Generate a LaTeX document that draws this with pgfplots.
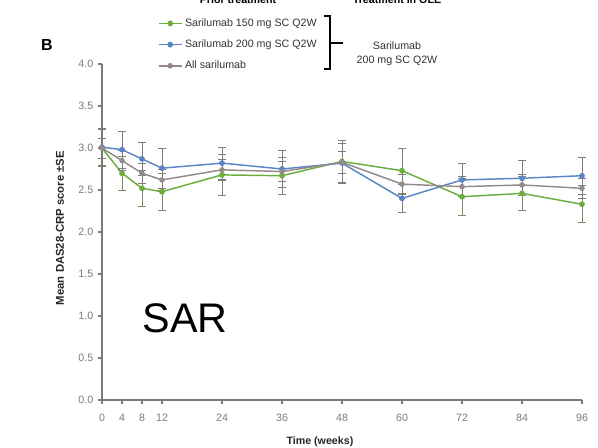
\documentclass[border=0pt]{standalone}
\usepackage{pgfplots}
\pgfplotsset{compat=1.18}
\usepackage{pgfplotstable}
\usepackage{fontspec}
\setmainfont{Liberation Sans}
\definecolor{cgreen}{HTML}{6BAE3E}
\definecolor{cblue}{HTML}{5B86C6}
\definecolor{cgray}{HTML}{958A8A}
\definecolor{axgray}{HTML}{7A7A7A}
\definecolor{errgray}{HTML}{7C7C7C}
\pgfplotstableread{
t m e
0 3.00 0.22
4 2.70 0.20
8 2.52 0.21
12 2.48 0.22
24 2.68 0.24
36 2.67 0.22
48 2.84 0.25
60 2.73 0.27
72 2.42 0.22
84 2.46 0.20
96 2.33 0.22
}\green
\pgfplotstableread{
t m e
0 3.01 0.22
4 2.98 0.22
8 2.87 0.20
12 2.76 0.24
24 2.82 0.19
36 2.75 0.22
48 2.82 0.24
60 2.40 0.17
72 2.62 0.20
84 2.64 0.21
96 2.67 0.22
}\blue
\pgfplotstableread{
t m e
0 3.00 0.12
4 2.85 0.12
8 2.70 0.12
12 2.62 0.12
24 2.74 0.12
36 2.72 0.12
48 2.83 0.13
60 2.57 0.12
72 2.54 0.12
84 2.56 0.12
96 2.52 0.12
}\allsar
\begin{document}
\begin{tikzpicture}
\useasboundingbox (0,0) rectangle (448.5pt,335.25pt);
\begin{axis}[
  at={(76.5pt,35.25pt)}, anchor=south west,
  scale only axis, width=360pt, height=252pt,
  xmin=0, xmax=96, ymin=0, ymax=4,
  axis lines=left, axis line style={-, axgray, line width=0.9pt},
  xtick={0,4,8,12,24,36,48,60,72,84,96},
  ytick={0,0.5,1,1.5,2,2.5,3,3.5,4},
  yticklabel style={/pgf/number format/.cd, fixed, fixed zerofill, precision=1},
  /pgf/number format/assume math mode=true,
  tick align=outside, major tick length=3pt,
  tick style={axgray, line width=0.8pt},
  tick label style={font=\fontsize{8}{9}\selectfont, text=axgray},
  xticklabel style={yshift=-4pt},
  xlabel={Time (weeks)},
  ylabel={Mean DAS28-CRP score ±SE},
  xlabel style={at={(axis description cs:0.454,-0.125)}, anchor=center, font=\bfseries\fontsize{8}{9}\selectfont, text=black!85},
  ylabel style={at={(axis description cs:-0.0875,0.512)}, anchor=center, font=\bfseries\fontsize{8.5}{10}\selectfont, text=black!85},
  legend style={at={(axis description cs:0.108,1.152)}, anchor=north west, draw=none, fill=none,
    font=\fontsize{8}{9.5}\selectfont, row sep=4.6pt, text=black!80},
  legend cell align=left,
  clip=false,
]
\addplot+[cgreen, line width=1.1pt, mark=*, mark size=1.6pt, mark options={fill=cgreen, draw=cgreen},
  error bars/.cd, y dir=both, y explicit,
  error bar style={errgray!70!cgreen, line width=0.6pt},
  error mark options={rotate=90, mark size=3pt, errgray!70!cgreen, line width=0.6pt}]
  table[x=t, y=m, y error=e]{\green};
\addlegendentry{Sarilumab 150 mg SC Q2W}
\addplot+[cblue, line width=1.1pt, mark=*, mark size=1.6pt, mark options={fill=cblue, draw=cblue},
  error bars/.cd, y dir=both, y explicit,
  error bar style={errgray, line width=0.6pt},
  error mark options={rotate=90, mark size=3pt, errgray, line width=0.6pt}]
  table[x=t, y=m, y error=e]{\blue};
\addlegendentry{Sarilumab 200 mg SC Q2W}
\addplot+[cgray, line width=1.1pt, mark=*, mark size=1.5pt, mark options={fill=cgray, draw=cgray},
  error bars/.cd, y dir=both, y explicit,
  error bar style={errgray, line width=0.6pt},
  error mark options={rotate=90, mark size=3pt, errgray, line width=0.6pt}]
  table[x=t, y=m, y error=e]{\allsar};
\addlegendentry{All sarilumab}
\end{axis}
% bracket
\draw[black, line width=1pt] (243pt,323.25pt) -- (247.5pt,323.25pt) -- (247.5pt,283.5pt) -- (243pt,283.5pt);
\draw[black, line width=1pt] (247.5pt,303pt) -- (257.25pt,303pt);
\node[font=\fontsize{8}{9.5}\selectfont, text=black!80] at (297.75pt,300.75pt) {Sarilumab};
\node[font=\fontsize{8}{9.5}\selectfont, text=black!80] at (297.75pt,289.5pt) {200 mg SC Q2W};
\node[font=\bfseries\fontsize{8}{9.5}\selectfont, anchor=base] at (178.5pt,332.6pt) {Prior treatment};
\node[font=\bfseries\fontsize{8}{9.5}\selectfont, anchor=base] at (297.75pt,332.6pt) {Treatment in OLE};
\node[font=\bfseries\fontsize{12}{14}\selectfont] at (35.25pt,301.5pt) {B};
\node[font=\fontsize{31}{34}\selectfont] at (138.75pt,96.75pt) {SAR};
\end{tikzpicture}
\end{document}
